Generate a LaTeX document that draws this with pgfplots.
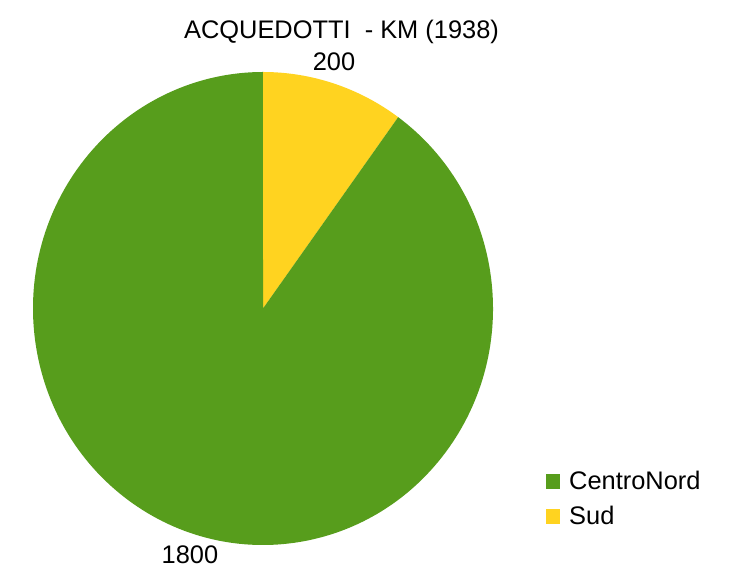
\documentclass[border=0pt]{standalone}
\usepackage{fontspec}
\setmainfont{Liberation Sans}
\usepackage{pgfplots}
\usepackage{pgfplotstable}
\pgfplotsset{compat=1.18}

\definecolor{cnord}{HTML}{579D1C}
\definecolor{csud}{HTML}{FFD320}

% km of aqueducts, 1938
\pgfplotstableread{
label      value
CentroNord 1800
Sud        200
}\acquedotti

\begin{document}
\begin{tikzpicture}[font=\fontsize{25.5}{30}\selectfont]
  \pgfplotstablegetelem{0}{value}\of\acquedotti \let\vnord\pgfplotsretval
  \pgfplotstablegetelem{1}{value}\of\acquedotti \let\vsud\pgfplotsretval
  \pgfmathsetmacro{\tot}{\vnord+\vsud}
  \pgfmathsetmacro{\asud}{90-(\vsud/\tot)*360}
  \pgfmathsetmacro{\anord}{\asud-(\vnord/\tot)*360}
  \begin{axis}[
      scale only axis,
      width=729bp, height=574bp,
      xmin=0, xmax=729, ymin=0, ymax=574,
      hide axis, clip=false,
      /pgf/number format/assume math mode=true,
    ]
    \path (axis cs:0,0) rectangle (axis cs:729,574);
    % slices, clockwise from 12 o'clock
    \fill[csud] (axis cs:263,265.5) -- (axis cs:263,502)
      arc[start angle=90, end angle=\asud, x radius=230bp, y radius=236.5bp] -- cycle;
    \fill[cnord] (axis cs:263,265.5) -- ++(\asud:230bp and 236.5bp)
      arc[start angle=\asud, end angle=\anord, x radius=230bp, y radius=236.5bp] -- cycle;
    % title and values
    \node[anchor=base] at (axis cs:341.5,535) {ACQUEDOTTI\ \ - KM (1938)};
    \node[anchor=base] at (axis cs:334,503) {\pgfmathprintnumber[fixed,assume math mode=true]{\vsud}};
    \node[anchor=base] at (axis cs:190,10) {\pgfmathprintnumber[1000 sep={},assume math mode=true]{\vnord}};
    % legend
    \fill[cnord] (axis cs:546,85) rectangle (axis cs:560,100);
    \fill[csud] (axis cs:546,50) rectangle (axis cs:560,65);
    \node[anchor=base west, inner sep=0pt] at (axis cs:569,84) {CentroNord};
    \node[anchor=base west, inner sep=0pt] at (axis cs:569,49) {Sud};
  \end{axis}
\end{tikzpicture}
\end{document}
